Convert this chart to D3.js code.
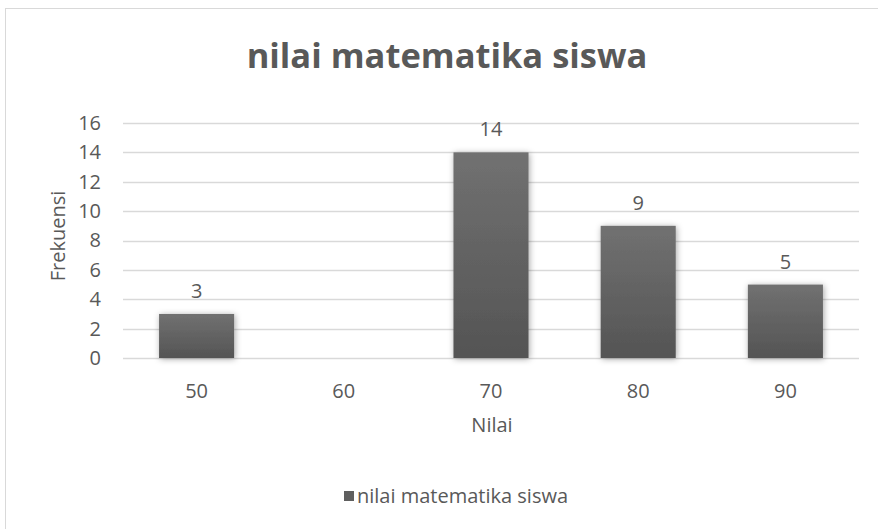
<!DOCTYPE html>
<style>
body { margin: 0; background: #fff; }
svg text { font-family: "Open Sans", "Liberation Sans", sans-serif; fill: #595959; }
</style>
<body></body>
<script src="https://d3js.org/d3.v7.min.js"></script>
<script>
const categories = ['50', '60', '70', '80', '90']
const values = [3, 0, 14, 9, 5]
const yTicks = [0, 2, 4, 6, 8, 10, 12, 14, 16]
const chartTitle = 'nilai matematika siswa'
const seriesName = 'nilai matematika siswa'
const xTitle = 'Nilai'
const yTitle = 'Frekuensi'

const width = 878
const height = 529
const plot = { left: 123, right: 859, top: 123, bottom: 358 }

const svg = d3.select('body').append('svg')
    .attr('width', width)
    .attr('height', height)

const defs = svg.append('defs')
const grad = defs.append('linearGradient')
    .attr('id', 'barGrad')
    .attr('x1', 0).attr('y1', 0).attr('x2', 0).attr('y2', 1)
grad.append('stop').attr('offset', '0%').attr('stop-color', '#717171')
grad.append('stop').attr('offset', '100%').attr('stop-color', '#545454')

const shadow = defs.append('filter')
    .attr('id', 'shadow')
    .attr('x', '-30%').attr('y', '-30%').attr('width', '160%').attr('height', '160%')
shadow.append('feDropShadow')
    .attr('dx', 1).attr('dy', 1)
    .attr('stdDeviation', 3)
    .attr('flood-color', '#000')
    .attr('flood-opacity', 0.35)

// chart border
svg.append('rect')
    .attr('x', 5.5).attr('y', 8.5)
    .attr('width', 1000).attr('height', 1000)
    .attr('fill', 'none')
    .attr('stroke', '#d9d9d9')

const x = d3.scaleBand()
    .domain(categories)
    .range([plot.left, plot.right])
    .paddingInner(0.49)
    .paddingOuter(0.245)

const y = d3.scaleLinear()
    .domain([0, 16])
    .range([plot.bottom, plot.top])

// gridlines
svg.append('g')
    .selectAll('line')
    .data(yTicks)
    .join('line')
        .attr('x1', plot.left)
        .attr('x2', plot.right)
        .attr('y1', d => Math.round(y(d)) + 0.5)
        .attr('y2', d => Math.round(y(d)) + 0.5)
        .attr('stroke', '#d9d9d9')
        .attr('stroke-width', 1.3)

// y axis labels
const yAxis = svg.append('g')
    .attr('transform', `translate(${plot.left}, 0)`)
    .call(d3.axisLeft(y).tickValues(yTicks).tickSize(0).tickPadding(22))
yAxis.select('.domain').remove()
yAxis.selectAll('text')
    .style('font-size', '20px')
    .attr('fill', '#595959')

// x axis labels
const xAxis = svg.append('g')
    .attr('transform', `translate(0, ${plot.bottom})`)
    .call(d3.axisBottom(x).tickSize(0).tickPadding(26))
xAxis.select('.domain').remove()
xAxis.selectAll('text')
    .style('font-size', '20px')
    .attr('fill', '#595959')

// bars
svg.append('g')
    .selectAll('rect')
    .data(values)
    .join('rect')
        .attr('x', (d, i) => x(categories[i]))
        .attr('y', d => y(d))
        .attr('width', x.bandwidth())
        .attr('height', d => y(0) - y(d))
        .attr('fill', 'url(#barGrad)')
        .attr('filter', 'url(#shadow)')
        .style('display', d => d > 0 ? null : 'none')

// data labels
svg.append('g')
    .selectAll('text')
    .data(values)
    .join('text')
        .attr('x', (d, i) => x(categories[i]) + x.bandwidth() / 2)
        .attr('y', d => y(d) - 16)
        .attr('text-anchor', 'middle')
        .style('font-size', '20px')
        .text(d => d > 0 ? d : '')

// title
svg.append('text')
    .attr('x', 447)
    .attr('y', 68)
    .attr('text-anchor', 'middle')
    .style('font-size', '34.5px')
    .style('font-weight', 'bold')
    .text(chartTitle)

// axis titles
svg.append('text')
    .attr('x', 492)
    .attr('y', 432)
    .attr('text-anchor', 'middle')
    .style('font-size', '20px')
    .text(xTitle)

svg.append('text')
    .attr('transform', 'translate(65, 236) rotate(-90)')
    .attr('text-anchor', 'middle')
    .style('font-size', '20px')
    .text(yTitle)

// legend
const legend = svg.append('g').attr('transform', 'translate(344, 503)')
legend.append('rect')
    .attr('x', 0).attr('y', -12)
    .attr('width', 10).attr('height', 10)
    .attr('fill', '#5f5f5f')
legend.append('text')
    .attr('x', 13)
    .attr('y', 0)
    .style('font-size', '20px')
    .text(seriesName)
</script>
